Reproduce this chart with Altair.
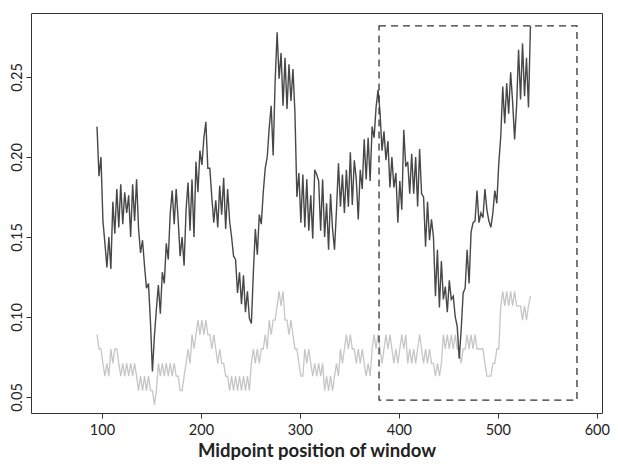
import altair as alt
import pandas as pd

# window midpoints (every 2nd position)
midpoints = list(range(95, 535, 2))

# dark series (observed)
dark_vals = [
    0.219, 0.188, 0.200, 0.160, 0.146, 0.131, 0.150, 0.130, 0.172, 0.152,
    0.180, 0.156, 0.183, 0.158, 0.178, 0.165, 0.176, 0.150, 0.183, 0.160,
    0.186, 0.155, 0.140, 0.148, 0.132, 0.118, 0.121, 0.097, 0.066, 0.088,
    0.105, 0.120, 0.102, 0.128, 0.121, 0.146, 0.136, 0.165, 0.179, 0.158,
    0.180, 0.161, 0.138, 0.150, 0.132, 0.167, 0.184, 0.154, 0.186, 0.150,
    0.197, 0.178, 0.204, 0.195, 0.212, 0.222, 0.193, 0.193, 0.175, 0.159,
    0.173, 0.156, 0.182, 0.164, 0.187, 0.155, 0.180, 0.160, 0.150, 0.138,
    0.136, 0.115, 0.128, 0.108, 0.126, 0.103, 0.116, 0.099, 0.096, 0.128,
    0.155, 0.139, 0.164, 0.158, 0.178, 0.193, 0.200, 0.218, 0.232, 0.201,
    0.247, 0.278, 0.249, 0.265, 0.232, 0.262, 0.230, 0.258, 0.235, 0.255,
    0.228, 0.175, 0.190, 0.159, 0.189, 0.156, 0.186, 0.154, 0.176, 0.149,
    0.192, 0.189, 0.185, 0.154, 0.186, 0.150, 0.171, 0.142, 0.177, 0.155,
    0.142, 0.167, 0.196, 0.169, 0.189, 0.165, 0.192, 0.169, 0.203, 0.170,
    0.198, 0.186, 0.161, 0.192, 0.180, 0.211, 0.186, 0.212, 0.185, 0.219,
    0.212, 0.231, 0.242, 0.228, 0.204, 0.216, 0.198, 0.210, 0.181, 0.200,
    0.181, 0.190, 0.159, 0.185, 0.167, 0.217, 0.194, 0.197, 0.177, 0.202,
    0.177, 0.200, 0.169, 0.205, 0.177, 0.175, 0.144, 0.172, 0.148, 0.161,
    0.150, 0.113, 0.142, 0.106, 0.135, 0.111, 0.119, 0.103, 0.123, 0.111,
    0.113, 0.100, 0.094, 0.074, 0.092, 0.115, 0.118, 0.142, 0.121, 0.153,
    0.159, 0.160, 0.179, 0.159, 0.165, 0.162, 0.180, 0.167, 0.160, 0.156,
    0.165, 0.179, 0.171, 0.196, 0.213, 0.244, 0.221, 0.246, 0.227, 0.253,
    0.234, 0.211, 0.232, 0.267, 0.236, 0.271, 0.238, 0.262, 0.231, 0.282,
]

# light series (background)
light_vals = [
    0.089, 0.080, 0.080, 0.071, 0.063, 0.071, 0.063, 0.080, 0.071, 0.080,
    0.080, 0.071, 0.063, 0.071, 0.063, 0.071, 0.063, 0.071, 0.063, 0.071,
    0.063, 0.054, 0.063, 0.054, 0.063, 0.054, 0.063, 0.054, 0.054, 0.045,
    0.054, 0.071, 0.063, 0.071, 0.063, 0.071, 0.063, 0.071, 0.063, 0.071,
    0.063, 0.063, 0.054, 0.054, 0.063, 0.071, 0.080, 0.071, 0.089, 0.080,
    0.089, 0.098, 0.089, 0.098, 0.089, 0.098, 0.089, 0.089, 0.080, 0.089,
    0.080, 0.071, 0.080, 0.071, 0.071, 0.063, 0.063, 0.054, 0.063, 0.054,
    0.063, 0.054, 0.063, 0.054, 0.063, 0.054, 0.063, 0.054, 0.071, 0.080,
    0.071, 0.080, 0.071, 0.080, 0.080, 0.089, 0.080, 0.098, 0.089, 0.098,
    0.098, 0.107, 0.116, 0.107, 0.116, 0.098, 0.098, 0.089, 0.098, 0.089,
    0.080, 0.080, 0.071, 0.063, 0.063, 0.080, 0.071, 0.080, 0.071, 0.063,
    0.071, 0.063, 0.071, 0.063, 0.071, 0.054, 0.063, 0.054, 0.063, 0.054,
    0.063, 0.071, 0.063, 0.080, 0.071, 0.080, 0.089, 0.080, 0.089, 0.080,
    0.080, 0.071, 0.080, 0.071, 0.080, 0.071, 0.063, 0.071, 0.063, 0.080,
    0.089, 0.080, 0.089, 0.080, 0.071, 0.080, 0.089, 0.080, 0.089, 0.080,
    0.071, 0.080, 0.071, 0.080, 0.089, 0.080, 0.089, 0.071, 0.080, 0.071,
    0.080, 0.071, 0.080, 0.089, 0.080, 0.071, 0.080, 0.071, 0.080, 0.071,
    0.071, 0.063, 0.071, 0.063, 0.071, 0.089, 0.080, 0.089, 0.080, 0.089,
    0.080, 0.089, 0.080, 0.080, 0.071, 0.080, 0.080, 0.089, 0.080, 0.089,
    0.080, 0.089, 0.080, 0.080, 0.080, 0.080, 0.071, 0.063, 0.063, 0.063,
    0.071, 0.071, 0.080, 0.080, 0.107, 0.116, 0.107, 0.116, 0.107, 0.116,
    0.107, 0.116, 0.107, 0.107, 0.107, 0.098, 0.107, 0.098, 0.107, 0.113,
]

# highlighted region
box_x = [380, 580]
box_y = [0.048, 0.282]

x_ticks = [100, 200, 300, 400, 500, 600]
y_ticks = [0.05, 0.10, 0.15, 0.20, 0.25]

df = pd.DataFrame({"x": midpoints, "dark": dark_vals, "light": light_vals})
box_df = pd.DataFrame({"bx1": [box_x[0]], "bx2": [box_x[1]],
                       "by1": [box_y[0]], "by2": [box_y[1]]})

xs = alt.Scale(domain=[28.3, 605.3], nice=False, zero=False)
ys = alt.Scale(domain=[0.04, 0.29], nice=False, zero=False)

x_axis = alt.Axis(values=x_ticks, format="d", title="Midpoint position of window",
                  titleFont="Lato", titleFontWeight="bold", titleFontSize=18.5,
                  titleColor="#222222", titlePadding=5,
                  labelFont="Lato", labelFontSize=14.5, labelColor="#222222",
                  labelPadding=5, tickColor="#333333", tickSize=5,
                  domain=False, grid=False)
y_axis = alt.Axis(values=y_ticks, format=".2f", title="",
                  labelFont="Lato", labelFontSize=14.5, labelColor="#222222",
                  labelAngle=270, labelAlign="center", labelBaseline="alphabetic",
                  labelPadding=5, tickColor="#333333", tickSize=5,
                  domain=False, grid=False)

light_line = alt.Chart(df).mark_line(color="#c6c6c6", strokeWidth=1.3).encode(
    x=alt.X("x:Q", scale=xs, axis=x_axis),
    y=alt.Y("light:Q", scale=ys, axis=y_axis),
)
dark_line = alt.Chart(df).mark_line(color="#474747", strokeWidth=1.4).encode(
    x=alt.X("x:Q", scale=xs, axis=x_axis),
    y=alt.Y("dark:Q", scale=ys, axis=y_axis),
)
box = alt.Chart(box_df).mark_rect(fillOpacity=0, stroke="#333333",
                                  strokeWidth=1.3, strokeDash=[7, 5]).encode(
    x=alt.X("bx1:Q", scale=xs, axis=x_axis),
    x2="bx2:Q",
    y=alt.Y("by1:Q", scale=ys, axis=y_axis),
    y2="by2:Q",
)

chart = alt.layer(light_line, dark_line, box).properties(
    width=571, height=400,
    autosize=alt.AutoSizeParams(type="none"),
    padding={"left": 23, "top": 5, "right": 8, "bottom": 50},
).configure_view(stroke="#333333", strokeWidth=1)

chart.save("out.html", embed_options={"renderer": "svg", "actions": False})
